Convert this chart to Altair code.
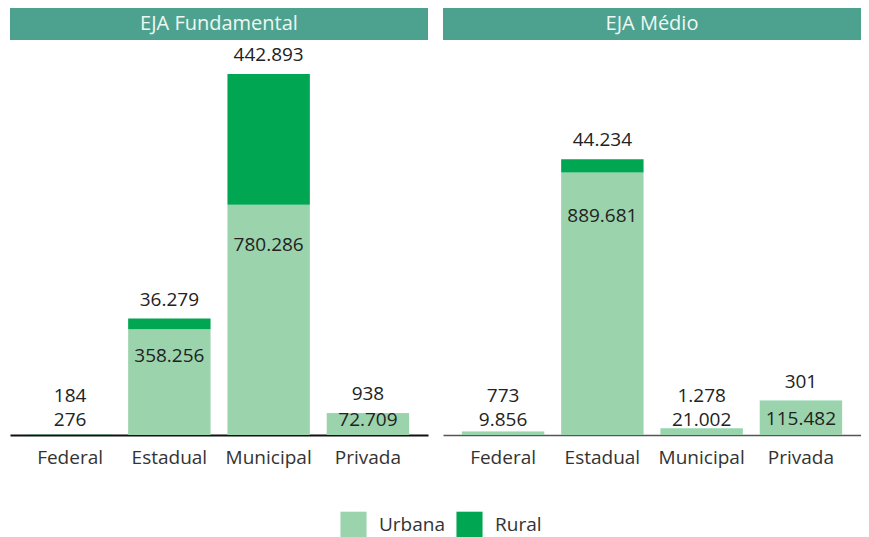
import altair as alt
import pandas as pd

panels = ["EJA Fundamental", "EJA Médio"]
categorias = ["Federal", "Estadual", "Municipal", "Privada"]
tipos = ["Urbana", "Rural"]
urbana_fund = [276, 358256, 780286, 72709]
rural_fund = [184, 36279, 442893, 938]
urbana_medio = [9856, 889681, 21002, 115482]
rural_medio = [773, 44234, 1278, 301]

C_URB = "#9bd3ad"
C_RUR = "#00a651"
C_HEAD = "#4da28f"
FONT = "Open Sans"
FS = 19

W = 418
H = 425
Y_MAX = 1439900
K = Y_MAX / H  # data units per pixel


def fmt(v):
    return f"{v:,}".replace(",", ".")


def panel(title, urb, rur, dom_w, dom_c):
    rows = []
    for c, u, r in zip(categorias, urb, rur):
        rows.append(dict(cat=c, tipo="Urbana", ordem=0, valor=u))
        rows.append(dict(cat=c, tipo="Rural", ordem=1, valor=r))
    bars_df = pd.DataFrame(rows)

    lab = []
    for c, u, r in zip(categorias, urb, rur):
        u_lab = max(0.89 * u - 50000, 15 * K)
        r_lab = max(u + r + 19 * K, u_lab + 24 * K)
        lab.append(dict(cat=c, u_lab=u_lab, r_lab=r_lab, u_txt=fmt(u), r_txt=fmt(r)))
    lab_df = pd.DataFrame(lab)

    xenc = alt.X(
        "cat:N",
        sort=categorias,
        scale=alt.Scale(paddingInner=0.17, paddingOuter=0.19),
        axis=alt.Axis(
            title=None, ticks=False, labelAngle=0, labelFontSize=FS,
            labelPadding=13, labelColor="#333333", labelFont=FONT,
            domainColor=dom_c, domainWidth=dom_w,
        ),
    )
    yscale = alt.Scale(domain=[0, Y_MAX], nice=False)

    bars = alt.Chart(bars_df).mark_bar().encode(
        x=xenc,
        y=alt.Y("valor:Q", stack="zero", scale=yscale, axis=None),
        color=alt.Color(
            "tipo:N",
            sort=tipos,
            scale=alt.Scale(domain=tipos, range=[C_URB, C_RUR]),
            legend=alt.Legend(
                orient="none", legendX=330, legendY=501, direction="horizontal",
                title=None, symbolType="square", symbolSize=680, symbolStrokeWidth=0,
                symbolOpacity=1, labelFontSize=FS, labelFont=FONT, labelColor="#333333",
                columnPadding=10, labelOffset=12,
            ),
        ),
        order=alt.Order("ordem:Q"),
    )

    u_text = alt.Chart(lab_df).mark_text(
        fontSize=FS, font=FONT, color="#222222", baseline="middle"
    ).encode(x=alt.X("cat:N", sort=categorias), y=alt.Y("u_lab:Q", scale=yscale), text="u_txt:N")
    r_text = alt.Chart(lab_df).mark_text(
        fontSize=FS, font=FONT, color="#222222", baseline="middle"
    ).encode(x=alt.X("cat:N", sort=categorias), y=alt.Y("r_lab:Q", scale=yscale), text="r_txt:N")

    head_df = pd.DataFrame({"titulo": [title]})
    head = alt.Chart(head_df).mark_rect(color=C_HEAD).encode(
        x=alt.value(0), x2=alt.value(W), y=alt.value(-2), y2=alt.value(30)
    )
    head_t = alt.Chart(head_df).mark_text(
        fontSize=20, font=FONT, color="#eef8f3", baseline="middle"
    ).encode(x=alt.value(W / 2), y=alt.value(14), text="titulo:N")

    return alt.layer(bars, u_text, r_text, head, head_t).properties(width=W, height=H)


left = panel(panels[0], urbana_fund, rural_fund, 2, "#111111")
right = panel(panels[1], urbana_medio, rural_medio, 1.5, "#555555")

chart = alt.hconcat(left, right, spacing=15).properties(
    padding={"left": 2, "top": 0, "right": 0, "bottom": 0}
).configure(font=FONT, view=alt.ViewConfig(stroke=None))

chart.save("out.html", embed_options={"renderer": "svg", "actions": False})
